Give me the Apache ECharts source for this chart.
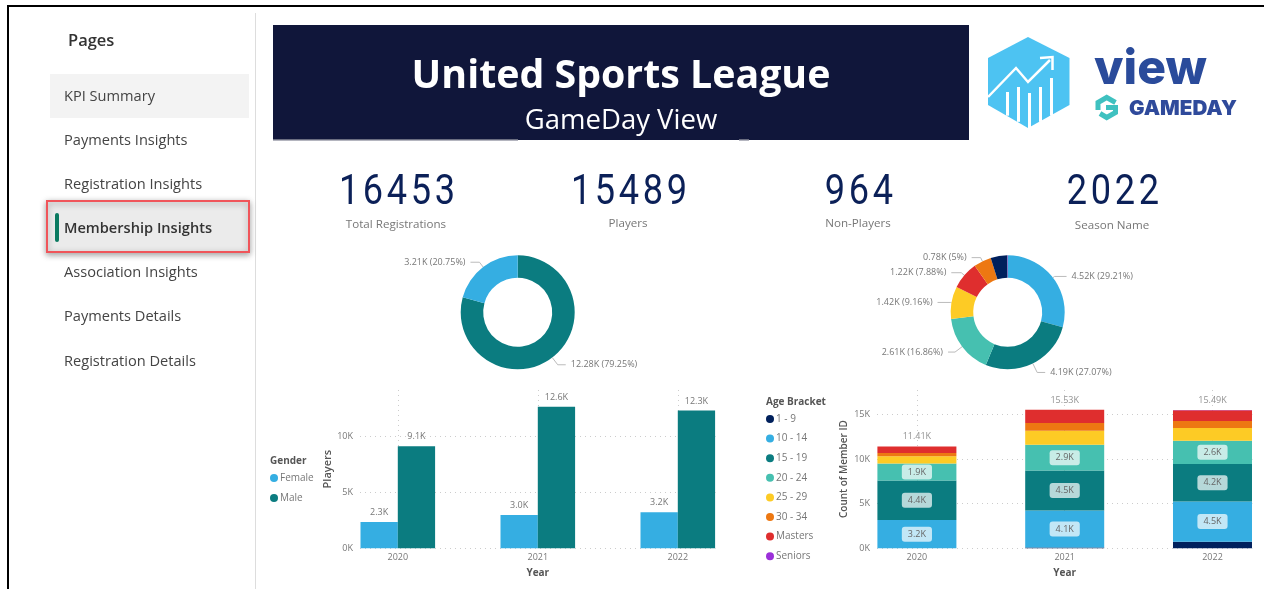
<!DOCTYPE html>
<html>
<head>
<meta charset="UTF-8">
<title>United Sports League - GameDay View</title>
<style>
  html, body { margin: 0; padding: 0; background: #fff; }
  #main { width: 1264px; height: 589px; }
</style>
<script src="https://cdn.jsdelivr.net/npm/echarts@6/dist/echarts.min.js"></script>
</head>
<body>
<div id="main"></div>
<script type="text/javascript">
var years = [2020, 2021, 2022];

// gender by year
var female = [2340, 2970, 3214];
var male = [9080, 12600, 12275];

// age bracket by year
var ageNames = ['1 - 9', '10 - 14', '15 - 19', '20 - 24', '25 - 29', '30 - 34', 'Masters', 'Seniors'];
var age_1_9 = [0, 100, 730];
var age_10_14 = [3170, 4120, 4524];
var age_15_19 = [4430, 4480, 4193];
var age_20_24 = [1900, 2900, 2611];
var age_25_29 = [820, 1570, 1419];
var age_30_34 = [340, 860, 775];
var age_masters = [730, 1480, 1221];
var age_seniors = [20, 20, 16];
var ageTotals = [11410, 15530, 15489];

// donuts are the 2022 season
var genderNames = ['Male', 'Female'];
var genderValues = [12275, 3214];
var donutAgeNames = ['10 - 14', '15 - 19', '20 - 24', '25 - 29', 'Masters', '30 - 34', '1 - 9', 'Seniors'];
var donutAgeValues = [4524, 4193, 2611, 1419, 1221, 775, 730, 16];

var menu = ['KPI Summary', 'Payments Insights', 'Registration Insights', 'Membership Insights', 'Association Insights', 'Payments Details', 'Registration Details'];
var kpiValues = ['16453', '15489', '964', '2022'];
var kpiNames = ['Total Registrations', 'Players', 'Non-Players', 'Season Name'];

var yTicksGender = [0, 5000, 10000];
var yTicksAge = [0, 5000, 10000, 15000];

var BLUE = '#35aee2', TEAL = '#0b7c80', GREEN = '#46c0b0', YELLOW = '#fdcb25',
    ORANGE = '#ed7812', RED = '#df2e2e', NAVY = '#00205c', PURPLE = '#9b30d9';
var ageColors = [NAVY, BLUE, TEAL, GREEN, YELLOW, ORANGE, RED, PURPLE];
var ageSeriesValues = [age_1_9, age_10_14, age_15_19, age_20_24, age_25_29, age_30_34, age_masters, age_seniors];
var ageColorByName = {};
ageNames.forEach(function (n, i) { ageColorByName[n] = ageColors[i]; });

var FONT = '"Open Sans", "Noto Sans", sans-serif';
var GREY = '#777777';
var DARK = '#555555';

function k1(v) { return (v / 1000).toFixed(1) + 'K'; }
function k2(v) { return Math.round(v / 10) / 100 + 'K'; }
function pairs(vals) { return vals.map(function (v, i) { return [years[i], v]; }); }
// value first so that the stack runs on y, x axis is numeric here
function pairsYFirst(vals) { return vals.map(function (v, i) { return [v, years[i]]; }); }

var myChart = echarts.init(document.getElementById('main'));

// page furniture
var graphics = [];
function rect(x, y, w, h, fill, extra) {
  var s = { fill: fill };
  for (var k in extra) s[k] = extra[k];
  graphics.push({ type: 'rect', silent: true, shape: { x: x, y: y, width: w, height: h, r: (extra && extra.radius) || 0 }, style: s });
}
function text(x, y, str, size, color, weight, align, font, scaleX) {
  graphics.push({ type: 'text', silent: true, x: x, y: y, scaleX: scaleX || 1, style: {
    text: str, fontSize: size, fill: color, fontWeight: weight || 'normal',
    fontFamily: font || FONT, align: align || 'left', verticalAlign: 'middle' } });
}
function line(points, color, width) {
  graphics.push({ type: 'polyline', silent: true, shape: { points: points }, style: { stroke: color, lineWidth: width, fill: 'none' } });
}

rect(7, 5, 1257, 2, '#000');
rect(7, 5, 2, 584, '#000');
rect(255, 13, 1, 576, '#dddddd');

text(68, 41, 'Pages', 16.5, '#333333', 600);
rect(50, 74, 199, 44, '#f3f3f3');
rect(47, 201, 202, 51, '#ebebeb', { stroke: '#f0555a', lineWidth: 2, shadowBlur: 6, shadowColor: 'rgba(0,0,0,0.35)', shadowOffsetY: 2 });
rect(55, 213, 4, 29, '#0b7a60', { radius: 2 });
var menuY = [96.7, 140.6, 184.6, 229, 273, 317, 361.5];
menu.forEach(function (m, i) {
  text(64, menuY[i], m, 14.6, i === 3 ? '#333333' : '#444444', i === 3 ? 600 : 'normal');
});

// banner
rect(273, 25, 696, 115, '#10163a');
rect(273, 139, 245, 1.5, '#6a6d80');
rect(739, 139, 10, 1.5, '#6a6d80');
text(621, 77, 'United Sports League', 39.3, '#ffffff', 700, 'center');
text(621, 121, 'GameDay View', 27.5, '#ffffff', 'normal', 'center');

// kpi cards
var kpiX = [397, 629, 859, 1113];
var kpiLabelY = [225, 224, 224, 226];
kpiValues.forEach(function (v, i) {
  text(kpiX[i], 193, v.split('').join('\u200a'), 42, '#0b2058', 'normal', 'center', 'Roboto', 0.86);
  text(kpiX[i] - 1, kpiLabelY[i], kpiNames[i], 11.6, GREY, 'normal', 'center');
});

// logo
graphics.push({ type: 'polygon', silent: true, shape: { points: [[1028, 37], [1069.5, 58], [1069.5, 105], [1028, 128], [988, 105], [988, 58]] }, style: { fill: '#4dc3f2' } });
line([[988, 97], [1016, 68], [1028, 82], [1050, 60]], '#fff', 2.5);
line([[1040, 58], [1052.5, 57], [1052.5, 70]], '#fff', 2.5);
[[1006, 92], [1017, 87], [1028, 93], [1039, 87], [1050, 78]].forEach(function (b) {
  rect(b[0], b[1], 3, 128 - b[1] - Math.abs(b[0] - 1028) * 0.56, '#fff');
});
text(1094, 70, 'view', 48, '#2a4b9b', 800, 'left', 'Inter');
text(1129, 109, 'GAMEDAY', 20.6, '#2f4a9b', 900, 'left', 'Inter');
line([[1115.5, 102.5], [1106.7, 97.5], [1098, 102.5], [1098, 110]], '#3fc1c0', 5);
line([[1106, 107.5], [1115.5, 107.5], [1115.5, 112.5], [1106.7, 117.5], [1100, 113.5]], '#3fc1c0', 5);

// legend titles
text(270, 461, 'Gender', 10, DARK, 700);
text(766, 402, 'Age Bracket', 10, DARK, 700);

function xAxisOf(gridIndex) {
  return {
    type: 'value', gridIndex: gridIndex, min: 2019.73, max: 2022.27,
    name: 'Year', nameLocation: 'middle', nameGap: 20,
    nameTextStyle: { color: DARK, fontSize: 10, fontWeight: 700, fontFamily: FONT },
    axisLine: { show: false },
    axisTick: { show: false, customValues: years },
    axisLabel: { color: GREY, fontSize: 9, fontFamily: FONT, customValues: years, margin: 5, formatter: function (v) { return String(v); } },
    splitLine: { show: true, lineStyle: { type: [1, 4], color: '#cccccc' } }
  };
}
function yAxisOf(gridIndex, max, ticks, name, gap, nameSize) {
  return {
    type: 'value', gridIndex: gridIndex, min: 0, max: max,
    name: name, nameLocation: 'middle', nameGap: gap,
    nameTextStyle: { color: DARK, fontSize: nameSize, fontWeight: 600, fontFamily: FONT },
    axisLine: { show: false },
    axisTick: { show: false, customValues: ticks },
    axisLabel: { color: GREY, fontSize: 9, fontFamily: FONT, margin: 7, customValues: ticks, formatter: function (v) { return v / 1000 + 'K'; } },
    splitLine: { show: true, lineStyle: { type: [1, 4], color: '#cccccc' } }
  };
}

var series = [
  { name: 'Female', type: 'bar', xAxisIndex: 0, yAxisIndex: 0, barWidth: 37.3, barGap: 0, data: pairs(female), itemStyle: { color: BLUE },
    label: { show: true, position: 'top', color: GREY, fontSize: 9, fontFamily: FONT, formatter: function (p) { return k1(p.value[1]); } } },
  { name: 'Male', type: 'bar', xAxisIndex: 0, yAxisIndex: 0, barWidth: 37.3, barGap: 0, data: pairs(male), itemStyle: { color: TEAL },
    label: { show: true, position: 'top', color: GREY, fontSize: 9, fontFamily: FONT, formatter: function (p) { return k1(p.value[1]); } } }
];

ageNames.forEach(function (n, i) {
  var labelled = n === '10 - 14' || n === '15 - 19' || n === '20 - 24';
  series.push({
    name: n, type: 'bar', stack: 'age', xAxisIndex: 1, yAxisIndex: 1, barWidth: 79,
    encode: { x: 1, y: 0 },
    data: pairsYFirst(ageSeriesValues[i]), itemStyle: { color: ageColors[i] },
    label: { show: labelled, position: 'inside', color: '#666666', fontSize: 9, fontFamily: FONT,
      backgroundColor: 'rgba(255,255,255,0.7)', borderRadius: 3, padding: [3, 6],
      formatter: function (p) { return k1(p.value[0]); } }
  });
});

series.push({
  name: 'Total', type: 'scatter', xAxisIndex: 1, yAxisIndex: 1, symbolSize: 0, silent: true,
  data: pairs(ageTotals),
  label: { show: true, position: 'top', distance: 5, color: GREY, fontSize: 9, fontFamily: FONT, formatter: function (p) { return k2(p.value[1]); } }
});

function donut(center, names, values, colorOf, lineLengths) {
  var sum = values.reduce(function (a, b) { return a + b; }, 0);
  return {
    type: 'pie', center: center, radius: [34.5, 57], startAngle: 90, silent: true,
    avoidLabelOverlap: false,
    label: { color: GREY, fontSize: 9, fontFamily: FONT, formatter: function (p) {
      return k2(p.value) + ' (' + Math.round(p.value / sum * 10000) / 100 + '%)';
    } },
    labelLine: { lineStyle: { color: '#bbbbbb', width: 1 } },
    data: names.map(function (n, i) {
      var d = { name: n, value: values[i], itemStyle: { color: colorOf(n) } };
      if (lineLengths[i]) {
        d.labelLine = { length: lineLengths[i][0], length2: lineLengths[i][1] };
      } else {
        d.label = { show: false };
        d.labelLine = { show: false };
      }
      return d;
    })
  };
}
series.push(donut([517.7, 312.3], genderNames, genderValues, function (n) { return n === 'Male' ? TEAL : BLUE; }, [[9, 8], [6, 9]]));
series.push(donut([1007.7, 312.3], donutAgeNames, donutAgeValues, function (n) { return ageColorByName[n]; },
  [[2, 12], [10, 8], [9, 7], [1, 13], [4, 10], [4, 9], null, null]));

var option = {
  animation: false,
  backgroundColor: '#ffffff',
  textStyle: { fontFamily: FONT },
  grid: [
    { left: 360, top: 390, width: 355.6, height: 158.3 },
    { left: 877, top: 390, width: 375.4, height: 158.3 }
  ],
  xAxis: [xAxisOf(0), xAxisOf(1)],
  yAxis: [yAxisOf(0, 14100, yTicksGender, 'Players', 25, 11), yAxisOf(1, 17730, yTicksAge, 'Count of Member ID', 28, 10)],
  legend: [
    { data: ['Female', 'Male'], orient: 'vertical', left: 270, top: 473, padding: 0, icon: 'circle', itemWidth: 8, itemHeight: 8, itemGap: 10, selectedMode: false,
      textStyle: { color: GREY, fontSize: 10, fontFamily: FONT, padding: [0, 0, 0, -3] } },
    { data: ageNames, orient: 'vertical', left: 766, top: 414, padding: 0, icon: 'circle', itemWidth: 8, itemHeight: 8, itemGap: 9.6, selectedMode: false,
      textStyle: { color: GREY, fontSize: 10, fontFamily: FONT, padding: [0, 0, 0, -3] } }
  ],
  graphic: { elements: graphics },
  series: series
};
myChart.setOption(option);
</script>
</body>
</html>
